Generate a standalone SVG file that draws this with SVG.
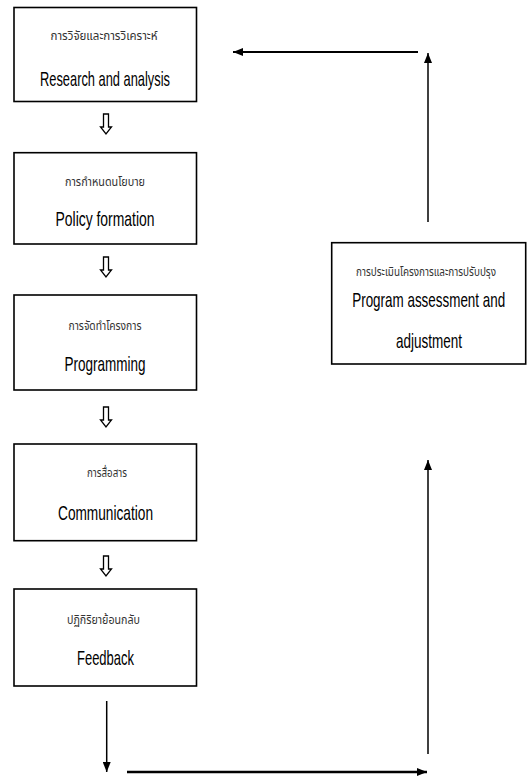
<svg xmlns="http://www.w3.org/2000/svg" width="527" height="778" viewBox="0 0 527 778">
<style>
.box{fill:#fff;stroke:#000;stroke-width:1.6}
.th{font-family:"Noto Sans Thai","Noto Sans","DejaVu Sans",sans-serif;font-size:12px;fill:#333;text-anchor:middle}
.en{font-family:"Liberation Sans",Arial,sans-serif;font-size:20px;fill:#000;text-anchor:middle}
.ln{fill:none;stroke:#000}
.hol{fill:#fff;stroke:#000;stroke-width:1.3;stroke-linejoin:miter}
</style>
<defs>
<marker id="ah" viewBox="0 0 10 8" refX="10" refY="4" markerWidth="10" markerHeight="8" markerUnits="userSpaceOnUse" orient="auto">
<path d="M0,0 L10,4 L0,8 Z" fill="#000"/>
</marker>
</defs>
<g id="n1">
<rect class="box" x="14" y="7.5" width="182.5" height="94"/>
<text class="th" x="104" y="40" textLength="107" lengthAdjust="spacingAndGlyphs">การวิจัยและการวิเคราะห์</text>
<text class="en" transform="translate(105,86) scale(0.7,1)" x="0" y="0" textLength="185.7" lengthAdjust="spacingAndGlyphs">Research and analysis</text>
</g>
<g id="n2">
<rect class="box" x="14" y="152.7" width="182.5" height="91.3"/>
<text class="th" x="105" y="186" textLength="80" lengthAdjust="spacingAndGlyphs">การกำหนดนโยบาย</text>
<text class="en" transform="translate(105,226) scale(0.7,1)" x="0" y="0" textLength="141.4" lengthAdjust="spacingAndGlyphs">Policy formation</text>
</g>
<g id="n3">
<rect class="box" x="14" y="295" width="182.5" height="95"/>
<text class="th" x="105" y="330" textLength="73" lengthAdjust="spacingAndGlyphs">การจัดทำโครงการ</text>
<text class="en" transform="translate(105,371) scale(0.7,1)" x="0" y="0" textLength="115.7" lengthAdjust="spacingAndGlyphs">Programming</text>
</g>
<g id="n4">
<rect class="box" x="14" y="444" width="182.5" height="96.7"/>
<text class="th" x="107" y="477" textLength="40" lengthAdjust="spacingAndGlyphs">การสื่อสาร</text>
<text class="en" transform="translate(105.5,520) scale(0.7,1)" x="0" y="0" textLength="135.7" lengthAdjust="spacingAndGlyphs">Communication</text>
</g>
<g id="n5">
<rect class="box" x="14" y="589" width="182.5" height="97"/>
<text class="th" x="103.5" y="624" textLength="73" lengthAdjust="spacingAndGlyphs">ปฏิกิริยาย้อนกลับ</text>
<text class="en" transform="translate(105.5,665) scale(0.7,1)" x="0" y="0" textLength="81.4" lengthAdjust="spacingAndGlyphs">Feedback</text>
</g>
<g id="n6">
<rect class="box" x="331.7" y="242.7" width="194" height="121.3"/>
<text class="th" x="426" y="276" textLength="140" lengthAdjust="spacingAndGlyphs">การประเมินโครงการและการปรับปรุง</text>
<text class="en" transform="translate(428.7,307) scale(0.7,1)" x="0" y="0" textLength="218.6" lengthAdjust="spacingAndGlyphs">Program assessment and</text>
<text class="en" transform="translate(429,348) scale(0.7,1)" x="0" y="0" textLength="94.3" lengthAdjust="spacingAndGlyphs">adjustment</text>
</g>
<g id="connectors">
<path class="hol" d="M103.5,114 H108.5 V127 H111.5 L106,134 L100.5,127 H103.5 Z"/>
<path class="hol" d="M103.5,257 H108.5 V270 H111.5 L106,277 L100.5,270 H103.5 Z"/>
<path class="hol" d="M103.5,407 H108.5 V420 H111.5 L106,427 L100.5,420 H103.5 Z"/>
<path class="hol" d="M103.5,556 H108.5 V569 H111.5 L106,576 L100.5,569 H103.5 Z"/>
<line class="ln" x1="418" y1="52" x2="233" y2="52" stroke-width="2.2" marker-end="url(#ah)"/>
<line class="ln" x1="428" y1="222" x2="428" y2="53" stroke-width="1.5" marker-end="url(#ah)"/>
<line class="ln" x1="428" y1="754" x2="428" y2="460" stroke-width="1.5" marker-end="url(#ah)"/>
<line class="ln" x1="106.7" y1="701" x2="106.7" y2="772" stroke-width="1.5" marker-end="url(#ah)"/>
<line class="ln" x1="127" y1="772" x2="427" y2="772" stroke-width="2.4" marker-end="url(#ah)"/>
</g>
</svg>
